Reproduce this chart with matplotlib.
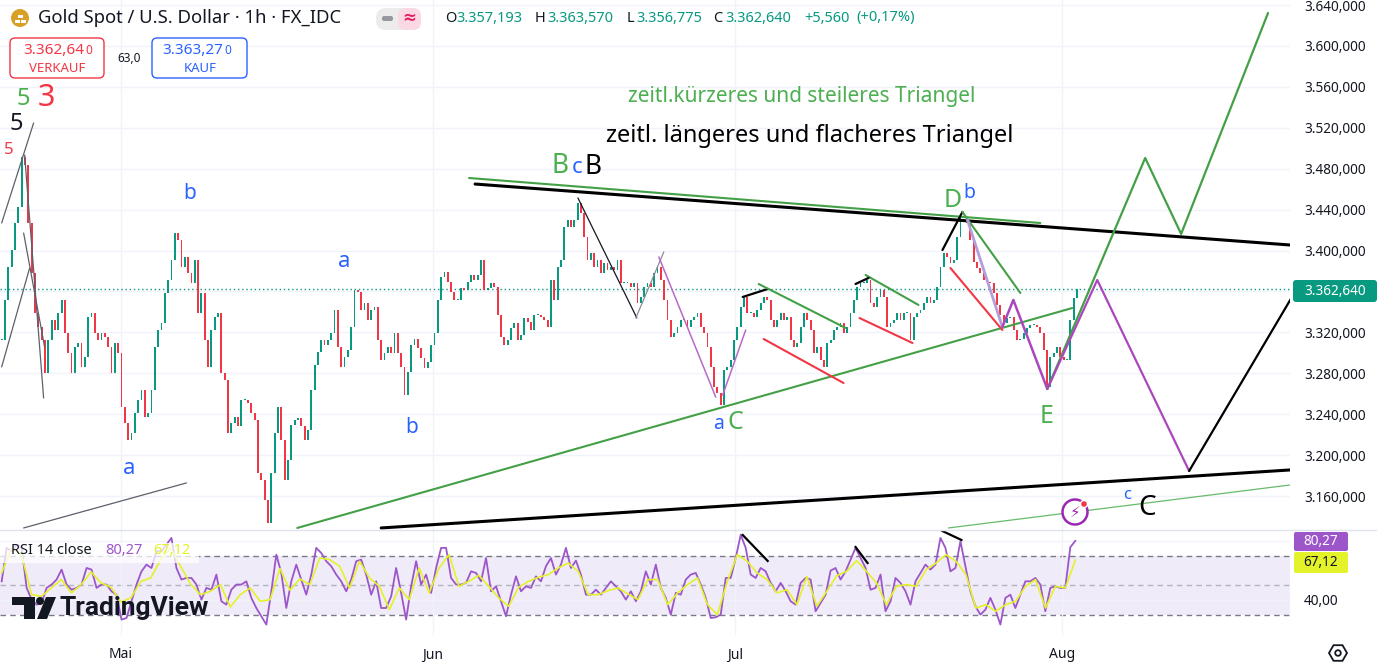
import numpy as np
import matplotlib.pyplot as plt
from matplotlib.patches import FancyBboxPatch, Circle, RegularPolygon, Polygon
from matplotlib.lines import Line2D
from matplotlib.transforms import IdentityTransform

plt.rcParams['font.family'] = ['Noto Sans', 'DejaVu Sans']

W, H = 1377, 662

# x unit = one sampled bar (~5.4 h), May 1 at bar 35.7
closes = [
    3313, 3352, 3384, 3401, 3427, 3443, 3491, 3484, 3427, 3378,
    3339, 3325, 3313, 3280, 3313, 3332, 3322, 3339, 3352, 3319,
    3300, 3280, 3306, 3310, 3286, 3296, 3335, 3339, 3319, 3313,
    3319, 3315, 3306, 3280, 3310, 3300, 3247, 3231, 3215, 3222,
    3241, 3254, 3264, 3237, 3241, 3264, 3306, 3322, 3329, 3358,
    3371, 3391, 3417, 3410, 3384, 3394, 3378, 3368, 3391, 3339,
    3358, 3313, 3286, 3322, 3335, 3339, 3280, 3273, 3222, 3231,
    3237, 3228, 3254, 3254, 3251, 3241, 3234, 3183, 3176, 3156,
    3134, 3183, 3222, 3247, 3215, 3176, 3195, 3229, 3234, 3236,
    3228, 3215, 3225, 3264, 3288, 3301, 3313, 3308, 3313, 3319,
    3342, 3306, 3286, 3296, 3303, 3325, 3361, 3359, 3342, 3349,
    3332, 3342, 3345, 3313, 3293, 3300, 3306, 3300, 3319, 3300,
    3286, 3259, 3281, 3308, 3314, 3305, 3295, 3285, 3291, 3308,
    3319, 3352, 3374, 3379, 3369, 3359, 3352, 3352, 3363, 3361,
    3369, 3376, 3371, 3376, 3391, 3361, 3363, 3368, 3364, 3337,
    3315, 3308, 3313, 3324, 3329, 3313, 3317, 3334, 3330, 3322,
    3337, 3337, 3335, 3332, 3325, 3371, 3352, 3384, 3391, 3423,
    3430, 3423, 3430, 3446, 3437, 3413, 3391, 3398, 3384, 3391,
    3378, 3388, 3381, 3384, 3381, 3391, 3368, 3368, 3368, 3364,
    3368, 3349, 3355, 3364, 3368, 3364, 3378, 3384, 3371, 3352,
    3332, 3315, 3319, 3325, 3332, 3332, 3325, 3332, 3335, 3339,
    3325, 3319, 3306, 3286, 3267, 3261, 3249, 3283, 3286, 3293,
    3313, 3325, 3345, 3355, 3339, 3339, 3335, 3342, 3349, 3355,
    3352, 3332, 3325, 3332, 3339, 3332, 3335, 3313, 3306, 3310,
    3325, 3339, 3332, 3322, 3300, 3306, 3293, 3286, 3310, 3313,
    3322, 3325, 3329, 3319, 3325, 3339, 3352, 3364, 3368, 3368,
    3371, 3349, 3345, 3355, 3361, 3355, 3325, 3329, 3332, 3339,
    3332, 3339, 3339, 3313, 3335, 3339, 3342, 3349, 3355, 3349,
    3352, 3364, 3384, 3398, 3394, 3388, 3391, 3413, 3433, 3432,
    3427, 3410, 3389, 3383, 3378, 3371, 3369, 3368, 3358, 3347,
    3337, 3329, 3334, 3335, 3322, 3313, 3314, 3319, 3324, 3327,
    3327, 3325, 3319, 3303, 3267, 3296, 3300, 3306, 3296, 3293,
    3293, 3332, 3354, 3362.64,
]

rsi_line = [
    52.7, 75.5, 73.2, 77.7, 75.5, 48.2, 40.2, 36.8, 38.0, 48.2,
    50.5, 53.9, 60.7, 50.5, 47.0, 48.2, 50.5, 61.8, 60.7, 48.2,
    50.5, 50.5, 45.9, 43.6, 26.6, 27.7, 39.1, 50.5, 59.5, 64.1,
    61.8, 73.2, 73.2, 77.7, 82.3, 61.8, 53.9, 55.0, 55.0, 50.5,
    40.2, 48.2, 47.0, 57.3, 39.1, 36.8, 47.0, 50.5, 50.5, 52.7,
    41.4, 34.5, 28.9, 23.2, 45.9, 70.9, 58.4, 34.5, 52.7, 64.1,
    53.9, 43.6, 57.3, 75.5, 72.0, 66.4, 63.0, 57.3, 52.7, 45.9,
    53.9, 66.4, 67.5, 57.3, 43.6, 52.7, 34.5, 34.5, 42.5, 61.8,
    44.8, 26.6, 49.3, 66.4, 50.5, 57.3, 44.8, 61.8, 75.5, 75.5,
    55.0, 50.5, 50.5, 51.6, 59.5, 58.4, 52.7, 68.6, 45.9, 49.3,
    39.1, 28.9, 43.6, 56.1, 45.9, 49.3, 48.2, 56.1, 52.7, 63.0,
    68.6, 57.3, 64.1, 75.5, 61.8, 66.8, 57.3, 43.6, 43.6, 47.0,
    43.6, 48.2, 52.7, 49.3, 45.9, 40.2, 45.9, 39.1, 45.9, 59.5,
    50.5, 64.1, 48.2, 41.4, 30.0, 44.8, 43.6, 53.9, 57.3, 58.4,
    50.5, 41.4, 27.7, 28.2, 30.0, 55.0, 55.0, 68.6, 84.5, 75.5,
    57.3, 55.0, 61.8, 59.5, 51.6, 45.9, 51.6, 45.9, 39.1, 36.8,
    51.6, 55.0, 53.9, 32.3, 38.0, 43.6, 60.0, 61.8, 53.9, 59.5,
    67.5, 75.5, 68.6, 61.8, 47.0, 48.2, 57.3, 32.3, 39.1, 55.0,
    51.6, 45.9, 36.8, 52.7, 58.4, 64.1, 60.7, 64.1, 82.3, 75.5,
    59.5, 61.8, 80.0, 63.0, 45.9, 35.7, 30.0, 33.4, 41.4, 33.4,
    23.2, 41.4, 43.6, 34.5, 43.6, 52.7, 52.7, 55.0, 50.5, 32.3,
    48.2, 49.3, 48.2, 48.2, 75.9, 80.27,
]

rsi_ma = [
    58.4, 75.5, 70.9, 43.6, 42.5, 48.2, 53.9, 44.8, 50.5, 59.1,
    51.6, 48.6, 38.6, 41.4, 52.7, 55.0, 67.5, 75.5, 63.0, 50.9,
    43.6, 45.9, 50.5, 35.2, 43.6, 48.2, 39.1, 40.2, 61.4, 46.6,
    54.3, 50.5, 68.6, 67.5, 63.0, 48.2, 66.4, 55.0, 49.3, 33.4,
    48.2, 40.2, 61.8, 44.8, 61.8, 70.9, 49.3, 52.7, 56.8, 49.3,
    41.4, 35.7, 48.6, 52.7, 55.5, 57.3, 61.8, 65.2, 59.5, 43.6,
    43.6, 46.4, 48.2, 44.1, 40.2, 53.9, 53.9, 36.8, 44.8, 50.5,
    55.0, 36.8, 30.0, 52.7, 70.9, 66.4, 58.4, 53.9, 44.8, 47.0,
    36.8, 56.1, 35.7, 45.9, 56.6, 59.5, 66.8, 59.5, 51.6, 36.8,
    49.3, 50.5, 49.3, 60.7, 65.2, 70.9, 66.4, 57.3, 34.5, 36.8,
    32.3, 36.8, 39.1, 49.3, 53.9, 34.5, 49.3, 48.2, 67.12,
]

months = ['Mai', 'Jun', 'Jul', 'Aug']
month_bars = [35.7, 129.6, 220.2, 318.6]
price_ticks = np.arange(3160, 3641, 40)
last_price = 3362.64
rsi_last = 80.27
rsi_ma_last = 67.12

# hand drawn lines: (bars, prices, colour, width)
GREEN = '#43a047'
PURPLE = '#ab47bc'
drawings = [
    ([142.2, 387.0], [3465.0, 3405.4], '#000000', 2.2),
    ([114.0, 387.0], [3128.8, 3185.5], '#000000', 2.2),
    ([140.4, 312.0], [3470.9, 3426.9], GREEN, 1.5),
    ([88.8, 321.6], [3128.8, 3343.8], GREEN, 1.5),
    ([284.4, 387.0], [3128.8, 3170.8], '#66bb6a', 0.9),
    ([6.6, 55.5], [3128.8, 3172.8], '#5d606b', 0.9),
    ([0.0, 9.6], [3426.9, 3524.7], '#5d606b', 0.9),
    ([0.0, 8.4], [3286.2, 3382.9], '#5d606b', 0.9),
    ([6.9, 12.6], [3493.4, 3255.9], '#5d606b', 0.9),
    ([6.6, 12.9], [3417.1, 3305.7], '#5d606b', 0.9),
    ([173.1, 190.8], [3451.4, 3334.1], '#131722', 0.9),
    ([190.5, 198.9], [3334.1, 3398.6], '#8a8d96', 0.9),
    ([197.4, 214.5], [3393.7, 3256.8], '#ba68c8', 1.1),
    ([216.6, 223.5], [3258.8, 3322.3], '#ba68c8', 1.1),
    ([222.6, 230.1], [3354.6, 3362.4], '#000000', 1.6),
    ([227.4, 253.5], [3367.3, 3324.3], GREEN, 1.5),
    ([228.9, 252.9], [3313.5, 3270.5], '#f23645', 1.5),
    ([259.5, 275.4], [3376.1, 3346.8], GREEN, 1.5),
    ([256.5, 260.4], [3367.3, 3373.2], '#000000', 1.6),
    ([257.7, 273.6], [3334.0, 3309.6], '#f23645', 1.5),
    ([282.6, 288.6], [3400.5, 3437.7], '#000000', 1.6),
    ([288.6, 306.0], [3437.7, 3358.5], GREEN, 1.5),
    ([285.0, 300.6], [3382.9, 3322.3], '#f23645', 1.5),
    ([290.1, 300.6], [3429.9, 3325.3], '#b39ddb', 2.0),
    ([300.6, 303.9, 314.1], [3325.3, 3351.7, 3264.7], PURPLE, 1.8),
    ([314.1, 343.5, 354.3, 380.4], [3264.7, 3490.5, 3416.2, 3632.2], GREEN, 1.6),
    ([314.1, 329.1, 356.7], [3264.7, 3371.2, 3184.5], PURPLE, 1.6),
    ([356.7, 387.6], [3184.5, 3354.6], '#000000', 1.6),
]
rsi_drawings = [
    ([222.6, 230.1], [84.3, 66.6]),
    ([256.5, 260.1], [76.1, 65.2]),
    ([282.6, 288.3], [87.0, 80.9]),
]

BLUE = '#2962ff'
LGREEN = '#4caf50'
wave_labels = [
    ('5', 6.6, 3548, LGREEN, 17, 'normal'),
    ('3', 13.5, 3549, '#f23645', 22, 'bold'),
    ('5', 4.5, 3524, '#131722', 17, 'normal'),
    ('5', 2.1, 3498, '#f23645', 12, 'bold'),
    ('b', 56.4, 3456, BLUE, 15, 'normal'),
    ('a', 38.4, 3187, BLUE, 16, 'normal'),
    ('a', 102.9, 3389, BLUE, 16, 'normal'),
    ('b', 123.0, 3227, BLUE, 15, 'normal'),
    ('B', 167.7, 3483, LGREEN, 19, 'normal'),
    ('c', 172.8, 3481, BLUE, 16, 'normal'),
    ('B', 177.6, 3482, '#000000', 19, 'normal'),
    ('D', 285.6, 3449, LGREEN, 18, 'normal'),
    ('b', 290.7, 3456, BLUE, 14, 'normal'),
    ('a', 215.4, 3230, BLUE, 14, 'normal'),
    ('C', 220.5, 3232, LGREEN, 18, 'normal'),
    ('E', 313.8, 3238, LGREEN, 18, 'normal'),
    ('c', 338.1, 3161, BLUE, 12, 'normal'),
    ('C', 344.1, 3148, '#000000', 20, 'normal'),
]


def de(v, nd):
    s = f"{v:,.{nd}f}"
    return s.replace(',', 'X').replace('.', ',').replace('X', '.')


fig = plt.figure(figsize=(W / 100, H / 100), dpi=100)
ax = fig.add_axes([0, 1 - 530 / H, 1290 / W, 530 / H])
ax2 = fig.add_axes([0, 1 - 635 / H, 1290 / W, 105 / H], sharex=ax)


def ptext(x, y, s, **kw):
    return fig.text(x / W, 1 - y / H, s, **kw)


def prect(x0, y0, x1, y1, **kw):
    p = FancyBboxPatch((x0, H - y1), x1 - x0, y1 - y0, transform=IdentityTransform(), **kw)
    fig.add_artist(p)
    return p


# --- candles ---
c = np.array(closes, float)
o = np.r_[c[0], c[:-1]]
xb = np.arange(len(c))
cols = np.where(c >= o, '#089981', '#f23645')
ax.bar(xb, np.maximum(np.abs(c - o), 0.8), bottom=np.minimum(o, c), width=0.55,
       color=cols, linewidth=0, zorder=3)

ax.axhline(last_price, color='#089981', lw=1, ls=(0, (1, 2)), zorder=2)

for xs, ys, col, lw in drawings:
    ax.plot(xs, ys, color=col, lw=lw, solid_capstyle='round', zorder=4)

for s, xk, yp, col, fs, fw in wave_labels:
    ax.text(xk, yp, s, color=col, fontsize=fs, fontweight=fw, ha='center', va='center', zorder=5)

ax.text(240.3, 3551, 'zeitl.kürzeres und steileres Triangel', color=LGREEN, fontsize=15,
        ha='center', va='center')
ax.text(242.7, 3512, 'zeitl. längeres und flacheres Triangel', color='#000000', fontsize=17,
        ha='center', va='center')

ax.set_xlim(-0.5, 387)
ax.set_ylim(3126.8, 3644.9)
ax.yaxis.tick_right()
ax.set_yticks(price_ticks)
ax.set_yticklabels([de(v, 3) for v in price_ticks])
ax.tick_params(axis='y', length=0, pad=10, labelsize=9.8, labelcolor='#131722')
ax.tick_params(axis='x', length=0, labelbottom=False)
ax.grid(True, color='#f0f3fa', lw=1, zorder=0)
for sp in ax.spines.values():
    sp.set_visible(False)

# --- RSI ---
rx = np.arange(len(rsi_line)) * 1.5
mx = np.linspace(0, rx[-1], len(rsi_ma))
ax2.axhspan(30, 70, color='#f0ebf9', zorder=0, lw=0)
ax2.axhline(70, color='#787b86', lw=1, dashes=(4, 3), zorder=1)
ax2.axhline(30, color='#787b86', lw=1, dashes=(4, 3), zorder=1)
ax2.axhline(50, color='#b2b5be', lw=1, dashes=(4, 3), zorder=1)
ax2.plot(rx, rsi_line, color='#9c56c9', lw=1.3, zorder=3)
ax2.plot(mx, rsi_ma, color='#e3f229', lw=1.2, zorder=4)
for xs, ys in rsi_drawings:
    ax2.plot(xs, ys, color='#000000', lw=1.6, zorder=5)
ax2.set_ylim(16.1, 87.7)
ax2.yaxis.tick_right()
ax2.set_yticks([40, 80])
ax2.set_yticklabels(['40,00', ''])
ax2.tick_params(axis='y', length=0, pad=10, labelsize=9.8, labelcolor='#131722')
ax2.set_xticks(month_bars)
ax2.set_xticklabels(months, fontweight='bold')
ax2.tick_params(axis='x', length=0, pad=9, labelsize=10, labelcolor='#131722')
ax2.grid(True, color='#f0f3fa', lw=1, zorder=0)
for sp in ax2.spines.values():
    sp.set_visible(False)

fig.add_artist(Line2D([0, 1], [1 - 530 / H] * 2, color='#e0e3eb', lw=1))

# RSI legend
prect(0, 543, 199, 563, boxstyle='square,pad=0', fc='white', ec='none', alpha=0.75, zorder=6)
ptext(11, 551, 'RSI 14 close', fontsize=10.5, color='#131722', va='center', zorder=7)
ptext(105, 551, de(rsi_last, 2), fontsize=10.5, color='#9c56c9', va='center', zorder=7)
ptext(153, 551, de(rsi_ma_last, 2), fontsize=10.5, color='#e3f229', va='center', zorder=7)

# axis tags
prect(1293, 280, 1377, 302, boxstyle='round,pad=0,rounding_size=3', fc='#089981', ec='none')
ptext(1335, 291, de(last_price, 3), fontsize=9.8, color='white', ha='center', va='center')
prect(1294, 532, 1348, 551, boxstyle='round,pad=0,rounding_size=2', fc='#9c56c9', ec='none')
ptext(1321, 541.5, de(rsi_last, 2), fontsize=9.8, color='white', ha='center', va='center')
prect(1294, 552, 1348, 573, boxstyle='round,pad=0,rounding_size=2', fc='#e3f229', ec='none')
ptext(1321, 562.5, de(rsi_ma_last, 2), fontsize=9.8, color='#131722', ha='center', va='center')

# header
fig.add_artist(Circle((20, H - 18), 9, transform=IdentityTransform(), fc='#d9a028', ec='none'))
for bx, by in [(14.5, 19.5), (20.5, 19.5), (17.5, 15)]:
    prect(bx, by, bx + 5, by + 3.2, boxstyle='square,pad=0', fc='white', ec='none')
ptext(38, 18, 'Gold Spot / U.S. Dollar · 1h · FX_IDC', fontsize=13.3, color='#131722', va='center')
prect(376, 8, 421, 30, boxstyle='round,pad=0,rounding_size=10', fc='#ececec', ec='none')
prect(398, 8, 421, 30, boxstyle='round,pad=0,rounding_size=8', fc='#fbd9e4', ec='none')
prect(382, 16, 393, 21, boxstyle='round,pad=0,rounding_size=2', fc='#9598a1', ec='none')
ptext(409, 18.5, '≈', fontsize=12, color='#e91e63', ha='center', va='center', fontweight='bold')

ohlc = [('O', 445, '#131722'), ('3.357,193', 456, '#089981'),
        ('H', 535, '#131722'), ('3.363,570', 547, '#089981'),
        ('L', 627, '#131722'), ('3.356,775', 636, '#089981'),
        ('C', 713, '#131722'), ('3.362,640', 725, '#089981'),
        ('+5,560', 804, '#089981'), ('(+0,17%)', 856, '#089981')]
for s, xp, col in ohlc:
    ptext(xp, 18, s, fontsize=10.5, color=col, va='center')

prect(10, 38, 104, 78, boxstyle='round,pad=0,rounding_size=5', fc='white', ec='#f23645', lw=1)
ptext(84, 51, '3.362,64', fontsize=11, fontweight='bold', color='#f23645', ha='right', va='center')
ptext(85, 50, '0', fontsize=8.5, color='#f23645', ha='left', va='center')
ptext(57, 68, 'VERKAUF', fontsize=9.5, color='#f23645', ha='center', va='center')
ptext(129, 58, '63,0', fontsize=8.5, color='#131722', ha='center', va='center')
prect(152, 38, 247, 78, boxstyle='round,pad=0,rounding_size=5', fc='white', ec=BLUE, lw=1)
ptext(223, 51, '3.363,27', fontsize=11, fontweight='bold', color=BLUE, ha='right', va='center')
ptext(224, 50, '0', fontsize=8.5, color=BLUE, ha='left', va='center')
ptext(200, 68, 'KAUF', fontsize=9.5, color=BLUE, ha='center', va='center')

# TradingView watermark
prect(12, 597, 35, 605, boxstyle='square,pad=0', fc='#131722', ec='none')
prect(24, 597, 35, 619, boxstyle='square,pad=0', fc='#131722', ec='none')
fig.add_artist(Circle((40, H - 601), 4, transform=IdentityTransform(), fc='#131722', ec='none'))
fig.add_artist(Polygon([(46, H - 597), (56, H - 597), (47, H - 619), (37, H - 619)],
                       transform=IdentityTransform(), fc='#131722', ec='none'))
ptext(60, 608, 'TradingView', fontsize=19, fontweight='bold', color='#131722',
      va='center', family=['Roboto', 'DejaVu Sans'])

# alert icon
fig.add_artist(Circle((1075, H - 512), 12.5, transform=IdentityTransform(), fc='white',
                      ec='#9c27b0', lw=1.8))
ptext(1075, 512.5, '⚡', fontsize=11, color='#9c27b0', ha='center', va='center',
      family=['DejaVu Sans'])
fig.add_artist(Circle((1084, H - 504), 3.5, transform=IdentityTransform(), fc='#f23645', ec='white', lw=1))

# settings icon
fig.add_artist(RegularPolygon((1338, H - 653), 6, radius=9, orientation=np.pi / 6,
                              transform=IdentityTransform(), fc='none', ec='#131722', lw=1.3))
fig.add_artist(Circle((1338, H - 653), 2.8, transform=IdentityTransform(), fc='none',
                      ec='#131722', lw=1.3))

fig.savefig('out.png', dpi=100)
